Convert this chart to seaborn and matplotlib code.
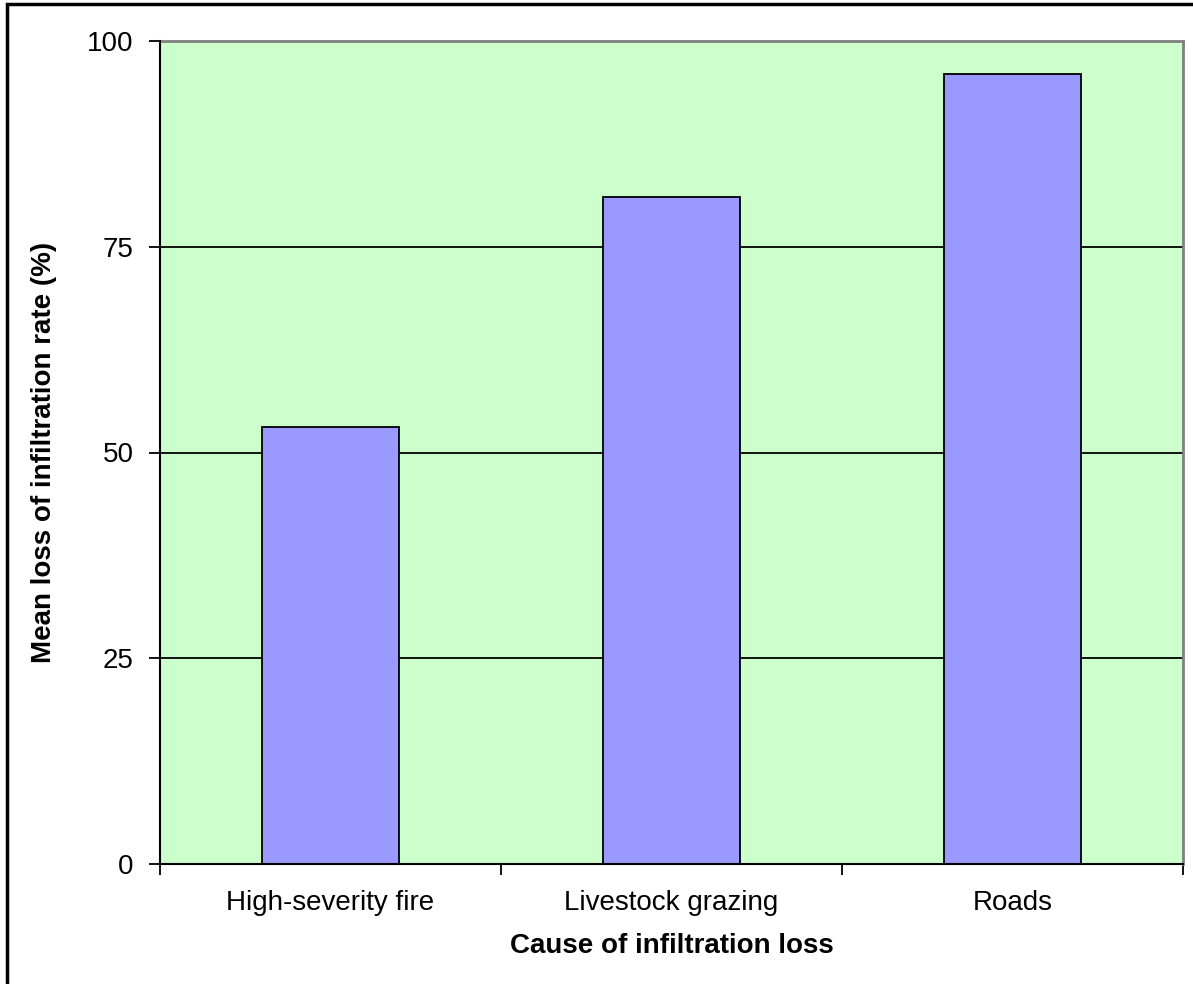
import matplotlib
matplotlib.use("Agg")
import matplotlib.pyplot as plt
import seaborn as sns
import pandas as pd
from matplotlib.patches import Rectangle

categories = ["High-severity fire", "Livestock grazing", "Roads"]
values = [53.1, 81.1, 96.0]
yticks = [0, 25, 50, 75, 100]

sns.set_theme(style="white")
plt.rcParams["font.family"] = ["Liberation Sans", "DejaVu Sans"]

W, H = 1193, 984
L, R, T, B = 160, 1183, 41, 864
fig = plt.figure(figsize=(W / 100, H / 100), dpi=100)
ax = fig.add_axes([L / W, 1 - B / H, (R - L) / W, (B - T) / H])
ax.set_facecolor("#CCFFCC")

df = pd.DataFrame({"cause": categories, "value": values})
sns.barplot(data=df, x="cause", y="value", ax=ax, color="#9999FF",
            saturation=1, width=0.4, edgecolor="black", linewidth=1.3, zorder=3)

FS = 20
ax.set_xlim(-0.5, 2.5)
ax.set_ylim(0, 100)
ax.set_yticks(yticks)
ax.set_yticklabels([str(t) for t in yticks], fontsize=FS, color="black")
ax.tick_params(axis="y", which="major", direction="out", length=8, width=1.3,
               color="black", pad=11, left=True)
ax.set_xticks([0, 1, 2])
ax.set_xticklabels(categories, fontsize=FS, color="black")
ax.tick_params(axis="x", which="major", length=0, pad=19)
ax.set_xticks([-0.5, 0.5, 1.5, 2.5], minor=True)
ax.tick_params(axis="x", which="minor", direction="out", length=8, width=1.3,
               color="black", bottom=True)

for t in [25, 50, 75]:
    ax.axhline(t, color="black", lw=1.3, zorder=1)

for s in ["left", "bottom"]:
    ax.spines[s].set_color("black")
    ax.spines[s].set_linewidth(1.5)
    ax.spines[s].set_zorder(4)
for s in ["top", "right"]:
    ax.spines[s].set_color("#808080")
    ax.spines[s].set_linewidth(2)
    ax.spines[s].set_visible(True)

ax.set_xlabel("Cause of infiltration loss", fontsize=FS, fontweight="bold", color="black")
ax.xaxis.set_label_coords(0.5, -(933 - B) / (B - T))
ax.set_ylabel("Mean loss of infiltration rate (%)", fontsize=FS, fontweight="bold", color="black")
ax.yaxis.set_label_coords((57 - L) / (R - L), 0.5)

fig.patches.append(Rectangle((7 / W, -0.1), 1.2, 1 - 4 / H + 0.1, transform=fig.transFigure,
                             fill=False, edgecolor="black", lw=2.5, zorder=10))

fig.savefig("out.png", dpi=100, facecolor="white")
